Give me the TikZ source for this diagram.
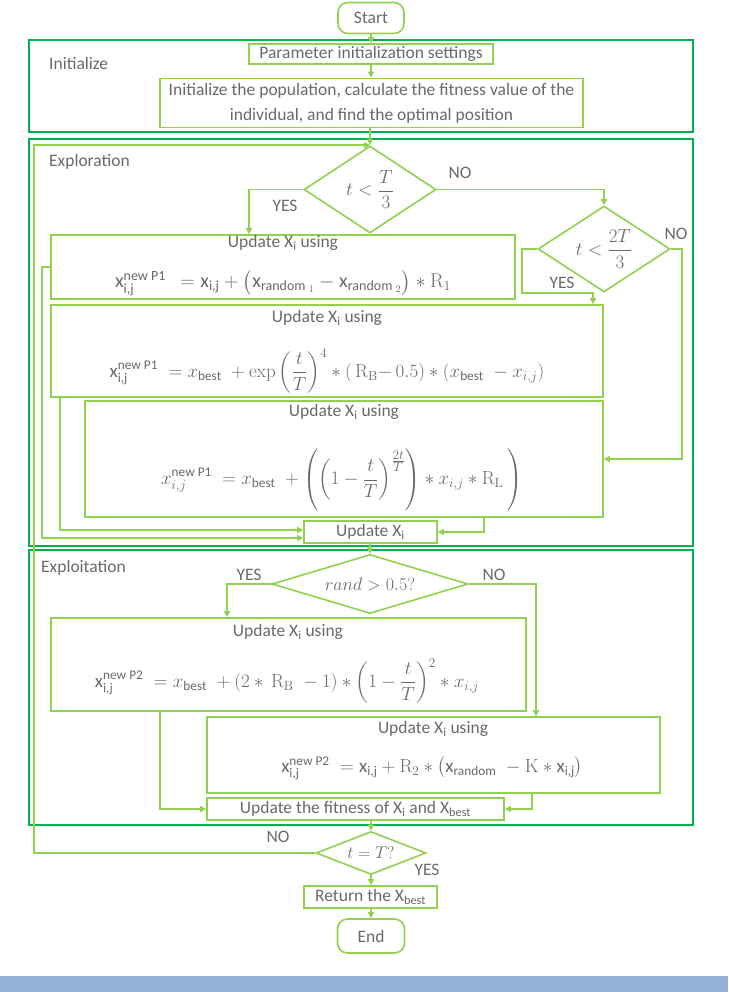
\RequirePackage{fix-cm}
\documentclass[tikz,border=0pt]{standalone}
\definecolor{boxgreen}{RGB}{146,208,80}
\definecolor{framegreen}{RGB}{0,176,80}
\definecolor{txtgray}{RGB}{105,105,105}
\definecolor{bandblue}{RGB}{149,179,215}
\usepackage{amsmath}
\usepackage[no-math]{fontspec}
\setmainfont{Carlito}
\usepackage{tikz}
\usetikzlibrary{arrows.meta,positioning,shapes.geometric,calc}
\newcommand{\flowfont}{\fontsize{17.5}{21}\selectfont}
\newcommand{\eqfont}{\fontsize{19}{23}\selectfont}

\begin{document}
\begin{tikzpicture}[x=1pt, y=-1pt,
    box/.style={draw=boxgreen, line width=1.6pt, fill=white, inner sep=0pt, text=txtgray, font=\flowfont},
    term/.style={box, rounded corners=10pt},
    dec/.style={diamond, draw=boxgreen, line width=1.6pt, fill=white, inner sep=0pt, text=txtgray, font=\eqfont},
    frame/.style={draw=framegreen, line width=2.4pt},
    arr/.style={draw=boxgreen, line width=1.6pt, -{Triangle[length=6pt,width=6pt]}},
    lbl/.style={text=txtgray, font=\flowfont, inner sep=0pt},
    eq/.style={lbl, font=\eqfont}]
  \useasboundingbox (0,0) rectangle (728,992);
  \fill[bandblue] (0,976) rectangle (728,992);

  % phase frames
  \draw[frame] (29,40) rectangle (693,132);
  \draw[frame] (29,139) rectangle (693,546);
  \draw[frame] (29,550) rectangle (693,825);
  \node[lbl, anchor=west] (initlbl) at (49,63) {Initialize};
  \node[lbl, anchor=west] (expllbl) at (49,162) {Exploration};
  \node[lbl, anchor=west] (exploitlbl) at (41,568) {Exploitation};

  % initialization
  \node[term, minimum width=66pt, minimum height=31pt] (start) at (371,18) {Start};
  \node[box, minimum width=244pt, minimum height=20pt] (param) at (371,54) {Parameter initialization settings};
  \node[box, minimum width=423pt, minimum height=49pt, align=center] (pop) at (371.5,103)
    {Initialize the population, calculate the fitness value of the\\[4pt] individual, and find the optimal position};

  % exploration
  \node[dec, aspect=1.52, minimum width=132pt, minimum height=87pt] (d1) at (370,189.5) {$t<\dfrac{T}{3}$};
  \node[dec, aspect=1.53, minimum width=132pt, minimum height=86pt] (d2) at (604,249) {$t<\dfrac{2T}{3}$};

  \node[box, minimum width=464pt, minimum height=64pt] (b1) at (283,267) {};
  \node[lbl] (b1t) at (283,243) {Update X\textsubscript{i} using};
  \node[eq, font=\fontsize{20}{24}\selectfont] (b1f) at (283,283) {$\text{x}_{\text{i,j}}^{\text{new P1}}\;\,=\text{x}_{\text{i,j}}+\bigl(\text{x}_{\text{random }{}_1}-\text{x}_{\text{random }{}_2}\bigr)\ast\mathrm{R}_1$};

  \node[box, minimum width=552pt, minimum height=92pt] (b2) at (327,351) {};
  \node[lbl] (b2t) at (327,318) {Update X\textsubscript{i} using};
  \node[eq] (b2f) at (327,371) {$\displaystyle\text{x}_{\text{i,j}}^{\text{new P1}}\;=x_{\text{best}}\;+\exp\left(\frac{t}{T}\right)^{4}\ast(\,\mathrm{R}_{\mathrm{B}}{-}\,0.5)\ast\left(x_{\text{best}}\;-x_{i,j}\right)$};

  \node[box, minimum width=518pt, minimum height=116pt] (b3) at (344,459) {};
  \node[lbl] (b3t) at (344,412) {Update X\textsubscript{i} using};
  \node[eq] (b3f) at (342,480) {$\displaystyle x_{i,j}^{\text{new P1}}\;=x_{\text{best}}\;+\left(\left(1-\frac{t}{T}\right)^{\frac{\scriptstyle 2t}{\scriptstyle T}}\right)\ast x_{i,j}\ast\mathrm{R}_{\mathrm{L}}\left.\vphantom{\left(\left(1-\frac{t}{T}\right)^{\frac{\scriptstyle 2t}{\scriptstyle T}}\right)}\right)$};

  \node[box, minimum width=133pt, minimum height=22pt] (upd) at (370.5,532) {Update X\textsubscript{i}};

  % exploitation
  \node[dec, aspect=3.3, minimum width=196pt, minimum height=59pt, font=\fontsize{18}{22}\selectfont] (d3) at (370,584) {$rand>0.5?$};

  \node[box, minimum width=475pt, minimum height=93pt] (b4) at (288.5,664.5) {};
  \node[lbl] (b4t) at (288,632) {Update X\textsubscript{i} using};
  \node[eq] (b4f) at (287,681) {$\displaystyle\text{x}_{\text{i,j}}^{\text{new P2}}\;=x_{\text{best}}\;+(2\ast\,\mathrm{R}_{\mathrm{B}}\;-1)\ast\left(1-\frac{t}{T}\right)^{2}\ast x_{i,j}$};

  \node[box, minimum width=453pt, minimum height=76pt] (b5) at (433.5,755) {};
  \node[lbl] (b5t) at (433,729) {Update X\textsubscript{i} using};
  \node[eq] (b5f) at (432,768) {$\text{x}_{\text{i,j}}^{\text{new P2}}\;=\text{x}_{\text{i,j}}+\mathrm{R}_2\ast\bigl(\text{x}_{\text{random}}\;-\mathrm{K}\ast\text{x}_{\text{i,j}}\bigr)$};

  \node[box, minimum width=297pt, minimum height=22pt] (fit) at (355.5,809) {Update the fitness of X\textsubscript{i} and X\textsubscript{best}};

  % termination
  \node[dec, aspect=2.56, minimum width=110pt, minimum height=43pt, font=\fontsize{17}{20}\selectfont] (d4) at (371,853) {$t=T?$};
  \node[box, minimum width=133pt, minimum height=22pt] (ret) at (370.5,897) {Return the X\textsubscript{best}};
  \node[term, minimum width=67pt, minimum height=34pt] (end) at (371,936) {End};

  % branch labels
  \node[lbl] (yes1) at (285,206) {YES};
  \node[lbl] (no1) at (460,173) {NO};
  \node[lbl] (no2) at (676,234) {NO};
  \node[lbl] (yes2) at (562,283) {YES};
  \node[lbl] (yes3) at (249,575) {YES};
  \node[lbl] (no3) at (494,575) {NO};
  \node[lbl] (no4) at (278,837) {NO};
  \node[lbl] (yes4) at (427,870) {YES};

  % connectors
  \draw[arr] (start) -- (param);
  \draw[arr] (param) -- (pop.north -| param.south);
  \draw[arr] (pop.south -| d1.north) -- (d1.north);
  \draw[arr] (d1.west) -| ([xshift=-34pt]b1.north);
  \draw[arr] (d1.east) -| (d2.north);
  \draw[arr] (d2.west) -- ++(-15,0) -- ++(0,44) -| ([xshift=266pt]b2.north);
  \draw[arr] (d2.east) -- ++(11,0) |- (b3.east);
  \draw[arr] (b1.west) -- ++(-8,0) |- ([yshift=-6pt]upd.west);
  \draw[arr] ([xshift=10pt]b2.south west) |- ([yshift=2pt]upd.west);
  \draw[arr] ([xshift=-120pt]b3.south east) |- (upd.east);
  \draw[arr] (upd.south -| d3.north) -- (d3.north);
  \draw[arr] (d3.west) -| ([xshift=-61.5pt]b4.north);
  \draw[arr] (d3.east) -| ([xshift=102.5pt]b5.north);
  \draw[arr] ([xshift=110pt]b4.south west) |- (fit.west);
  \draw[arr] ([xshift=-129pt]b5.south east) |- (fit.east);
  \draw[arr] (fit.south -| d4.north) -- (d4.north);
  \draw[arr] (d4.west) -- ++(-281,0) |- (d1.north);
  \draw[arr] (d4.south) -- (ret.north -| d4.south);
  \draw[arr] (ret.south -| end.north) -- (end.north);
\end{tikzpicture}
\end{document}
